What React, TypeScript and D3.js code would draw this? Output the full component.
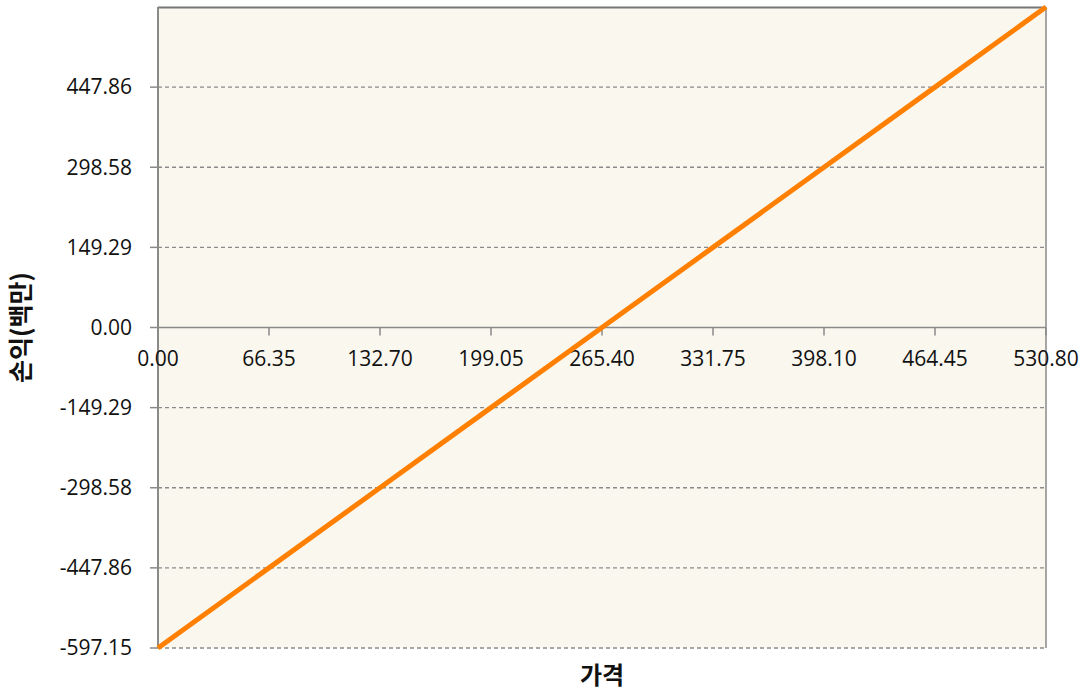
import React, { useEffect, useRef } from 'react';
import * as d3 from 'd3';

// price points (x) and profit in millions (y)
const prices = [0, 66.35, 132.7, 199.05, 265.4, 331.75, 398.1, 464.45, 530.8];
const profits = [-597.15, -447.86, -298.58, -149.29, 0, 149.29, 298.58, 447.86, 597.15];
const yTicks = [-597.15, -447.86, -298.58, -149.29, 0, 149.29, 298.58, 447.86];
const yTickLabels = ['-597.15', '-447.86', '-298.58', '-149.29', '0.00', '149.29', '298.58', '447.86'];
const xTickLabels = ['0.00', '66.35', '132.70', '199.05', '265.40', '331.75', '398.10', '464.45', '530.80'];

const App = () => {
  const svgRef = useRef<SVGSVGElement>(null);

  useEffect(() => {
    const W = 1087;
    const H = 692;
    const margin = { top: 7, right: 41, bottom: 44, left: 158 };
    const width = W - margin.left - margin.right;
    const height = H - margin.top - margin.bottom;

    d3.select(svgRef.current).selectAll('*').remove();

    const root = d3.select(svgRef.current)
      .attr('width', W)
      .attr('height', H);

    const svg = root.append('g')
      .attr('transform', `translate(${margin.left},${margin.top})`);

    const x = d3.scaleLinear().domain([0, 530.8]).range([0, width]);
    const y = d3.scaleLinear().domain([-597.15, 597.15]).range([height, 0]);

    const font = '"Open Sans", "Noto Sans", sans-serif';
    const grey = '#8a8a8a';

    // plot background
    svg.append('rect')
      .attr('x', 0).attr('y', 0)
      .attr('width', width).attr('height', height)
      .attr('fill', '#faf7ef');

    // gridlines (dashed)
    svg.selectAll('.grid')
      .data(yTicks.filter(d => d !== 0))
      .enter().append('line')
      .attr('x1', 0).attr('x2', width)
      .attr('y1', d => y(d)).attr('y2', d => y(d))
      .attr('stroke', grey)
      .attr('stroke-width', 1.3)
      .attr('stroke-dasharray', '4,3');

    // top border
    svg.append('line')
      .attr('x1', 0).attr('x2', width)
      .attr('y1', y(597.15) + 0.5).attr('y2', y(597.15) + 0.5)
      .attr('stroke', '#777').attr('stroke-width', 2);

    // right border
    svg.append('line')
      .attr('x1', width).attr('x2', width)
      .attr('y1', 0).attr('y2', height)
      .attr('stroke', grey).attr('stroke-width', 1.5);

    // left axis line + ticks
    svg.append('line')
      .attr('x1', 0).attr('x2', 0)
      .attr('y1', 0).attr('y2', height)
      .attr('stroke', grey).attr('stroke-width', 2);

    svg.selectAll('.ytick')
      .data(yTicks)
      .enter().append('line')
      .attr('x1', -8).attr('x2', 0)
      .attr('y1', d => y(d)).attr('y2', d => y(d))
      .attr('stroke', grey).attr('stroke-width', 1.5);

    svg.selectAll('.ylabel')
      .data(yTicks)
      .enter().append('text')
      .attr('x', -26)
      .attr('y', d => y(d))
      .attr('dy', '0.35em')
      .attr('text-anchor', 'end')
      .style('font-family', font)
      .style('font-size', '21px')
      .attr('fill', '#111')
      .text((d, i) => yTickLabels[i]);

    // x axis at zero
    svg.append('line')
      .attr('x1', 0).attr('x2', width)
      .attr('y1', y(0)).attr('y2', y(0))
      .attr('stroke', grey).attr('stroke-width', 1.5);

    svg.selectAll('.xtick')
      .data(prices)
      .enter().append('line')
      .attr('x1', d => x(d)).attr('x2', d => x(d))
      .attr('y1', y(0)).attr('y2', y(0) + 8)
      .attr('stroke', grey).attr('stroke-width', 1.5);

    svg.selectAll('.xlabel')
      .data(prices)
      .enter().append('text')
      .attr('x', d => x(d))
      .attr('y', y(0) + 31)
      .attr('dy', '0.35em')
      .attr('text-anchor', 'middle')
      .style('font-family', font)
      .style('font-size', '21px')
      .attr('fill', '#111')
      .text((d, i) => xTickLabels[i]);

    // profit line
    const line = d3.line<number>()
      .x((d, i) => x(prices[i]))
      .y(d => y(d));

    svg.append('path')
      .datum(profits)
      .attr('d', line)
      .attr('fill', 'none')
      .attr('stroke', '#ff8000')
      .attr('stroke-width', 5);

    // axis titles
    const kfont = '"Noto Sans CJK KR", sans-serif';
    root.append('text')
      .attr('transform', `translate(30,${margin.top + y(0)}) rotate(-90)`)
      .attr('text-anchor', 'middle')
      .style('font-family', kfont)
      .style('font-size', '25px')
      .style('font-weight', 'bold')
      .attr('fill', '#111')
      .text('손익(백만)');

    root.append('text')
      .attr('x', margin.left + width / 2)
      .attr('y', 684)
      .attr('text-anchor', 'middle')
      .style('font-family', kfont)
      .style('font-size', '24px')
      .style('font-weight', 'bold')
      .attr('fill', '#111')
      .text('가격');
  }, []);

  return (
    <svg ref={svgRef} style={{ display: 'block', position: 'absolute', left: 0, top: 0 }}></svg>
  );
};

export default App;
